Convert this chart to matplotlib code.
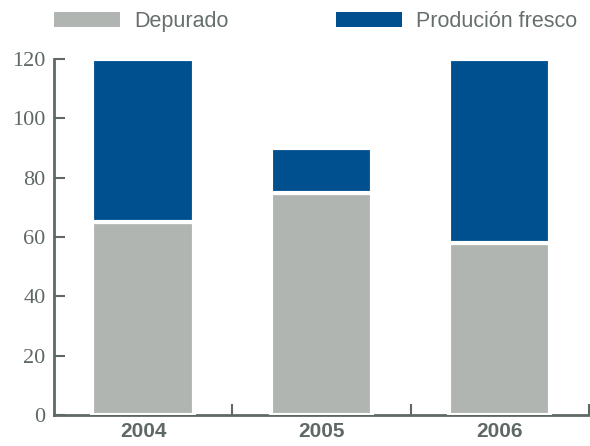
import matplotlib
matplotlib.use("Agg")
import matplotlib.pyplot as plt
import numpy as np

years = ["2004", "2005", "2006"]
depurado = [65, 75, 58]
fresco = [55, 15, 62]
yticks = [0, 20, 40, 60, 80, 100, 120]

gray = "#b0b5b1"
blue = "#004f8f"
axcol = "#5f6964"

fig = plt.figure(figsize=(5.9, 4.46), dpi=100)
ax = fig.add_axes([0.0915, 0.0695, 0.9065, 0.798])

x = np.arange(len(years))
ax.bar(x, depurado, width=0.57, color=gray, edgecolor="white", linewidth=3,
       zorder=3, label="Depurado")
ax.bar(x, fresco, bottom=depurado, width=0.57, color=blue, edgecolor="white",
       linewidth=3, zorder=3, label="Produción fresco")

ax.set_xlim(-0.5, 2.5)
ax.set_ylim(0, 120)
ax.set_yticks(yticks)
ax.set_yticklabels([str(v) for v in yticks], family="Liberation Serif",
                   fontsize=16, color=axcol)
ax.set_xticks(x)
ax.set_xticklabels(years, family="Liberation Sans", fontsize=15,
                   fontweight="bold", color=axcol)
ax.set_xticks([0.5, 1.5, 2.5], minor=True)

ax.tick_params(axis="y", direction="in", length=8, width=1.5, color=axcol, pad=6)
ax.tick_params(axis="x", which="major", length=0, pad=5)
ax.tick_params(axis="x", which="minor", direction="in", length=8, width=1.5,
               color=axcol)

for side in ["top", "right"]:
    ax.spines[side].set_visible(False)
for side in ["left", "bottom"]:
    ax.spines[side].set_color(axcol)
    ax.spines[side].set_linewidth(2)
    ax.spines[side].set_zorder(1)

leg = ax.legend(loc="lower left", bbox_to_anchor=(0.0, 1.076), ncol=2,
                frameon=False, borderaxespad=0, borderpad=0,
                handlelength=3.07, handleheight=0.74, handletextpad=0.65,
                columnspacing=5.0,
                prop={"family": "Liberation Sans", "size": 15.5})
for t in leg.get_texts():
    t.set_color("#66706b")
for h in leg.legend_handles:
    h.set_linewidth(0)

fig.savefig("out.png", dpi=100)
